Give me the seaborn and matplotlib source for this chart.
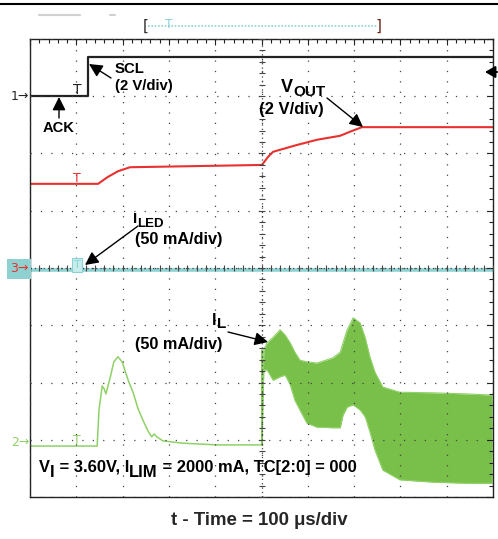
import numpy as np
import matplotlib
matplotlib.use("Agg")
import matplotlib.pyplot as plt
import seaborn as sns
from matplotlib.lines import Line2D

# time in us (100 us/div), amplitude in screen divisions (0 = bottom graticule line)
scl_t = [0, 125, 125, 1000]
scl_y = [7.0, 7.0, 7.69, 7.69]

vout_t = [0, 147, 168, 190, 216, 501, 514, 525, 577, 620, 670, 691, 717, 1000]
vout_y = [5.47, 5.47, 5.59, 5.69, 5.76, 5.80, 5.94, 6.03, 6.15, 6.24, 6.31, 6.38, 6.46, 6.46]

iled_t = [0, 1000]
iled_y = [3.97, 3.97]

il_t = [0, 145, 149, 156, 160, 164, 173, 181, 190, 199, 212, 223, 233, 244, 255, 263,
        268, 274, 287, 330, 404, 501]
il_y = [0.89, 0.89, 1.52, 1.94, 1.89, 1.80, 2.08, 2.36, 2.45, 2.36, 2.04, 1.82, 1.55,
        1.34, 1.15, 1.05, 1.10, 1.05, 0.98, 0.94, 0.91, 0.91]

# switching ripple envelope of IL after the second step
band_t = [501, 505, 512, 525, 540, 551, 562, 572, 583, 598, 620, 654, 670, 676, 685,
          698, 713, 724, 734, 745, 762, 799, 870, 944, 998]
band_hi = [0.91, 2.57, 2.69, 2.79, 2.92, 2.83, 2.69, 2.53, 2.39, 2.36, 2.34, 2.43, 2.53,
           2.69, 2.92, 3.13, 3.04, 2.78, 2.45, 2.18, 1.92, 1.83, 1.82, 1.80, 1.78]
band_lo = [0.91, 2.22, 2.22, 2.04, 2.10, 2.13, 1.96, 1.69, 1.52, 1.29, 1.22, 1.21, 1.21,
           1.43, 1.57, 1.61, 1.52, 1.40, 1.14, 0.82, 0.47, 0.30, 0.26, 0.24, 0.24]

BLACK = "#222222"
RED = "#e8312f"
CYAN = "#8ed3d3"
GREEN = "#78c04a"
LGREEN = "#8fd166"

sns.set_style("white")
plt.rcParams["font.family"] = ["Liberation Sans", "DejaVu Sans"]

W, H = 498, 539
fig = plt.figure(figsize=(W / 100, H / 100), dpi=100)
ax = fig.add_axes([30 / W, 42 / H, 463 / W, 458 / H])
ax.set_xlim(0, 1000)
ax.set_ylim(0, 8)


def X(px):
    return (px - 30) / 463 * 1000


def Y(py):
    return (497 - py) / 458 * 8


def FX(px):
    return px / W


def FY(py):
    return 1 - py / H


def label(x_px, base_px, parts):
    # parts: (text, drop in px below the baseline, font size); each part follows the previous one
    prev = None
    for txt, dy, size in parts:
        kw = dict(ha="left", va="baseline", fontsize=size, fontweight="bold", color="black")
        if prev is None:
            prev = ax.text(X(x_px), Y(base_px + dy), txt, **kw)
        else:
            prev = ax.annotate(txt, xy=(1, Y(base_px + dy)), xycoords=(prev, "data"), **kw)
    return prev


# traces
sns.lineplot(x=scl_t, y=scl_y, ax=ax, color=BLACK, lw=1.6, estimator=None, sort=False)
sns.lineplot(x=vout_t, y=vout_y, ax=ax, color=RED, lw=1.5, estimator=None, sort=False)
sns.lineplot(x=iled_t, y=iled_y, ax=ax, color=CYAN, lw=2.6, estimator=None, sort=False)
sns.lineplot(x=il_t, y=il_y, ax=ax, color=LGREEN, lw=1.1, estimator=None, sort=False)
ax.fill_between(band_t, band_lo, band_hi, color=GREEN, lw=0, zorder=2)
sns.lineplot(x=band_t, y=band_hi, ax=ax, color=LGREEN, lw=0.8, estimator=None, sort=False)
sns.lineplot(x=band_t, y=band_lo, ax=ax, color=LGREEN, lw=0.8, estimator=None, sort=False)
ax.plot([501, 501], [0.91, 2.57], color=GREEN, lw=1.2)

# graticule
ax.set_xticks(np.arange(0, 1001, 100))
ax.set_yticks(np.arange(0, 9, 1))
ax.set_xticks(np.arange(0, 1001, 20), minor=True)
ax.set_yticks(np.arange(0, 8.01, 0.2), minor=True)
ax.tick_params(which="both", direction="in", top=True, right=True,
               labelbottom=False, labelleft=False, color=BLACK, width=0.8)
ax.tick_params(which="major", length=4)
ax.tick_params(which="minor", length=3)
ax.set_axisbelow(False)
ax.grid(True, which="major", color="#444444", linestyle=(0, (1, 7.3)), lw=0.9)
for s in ax.spines.values():
    s.set_color(BLACK)
    s.set_linewidth(1.0)
ax.axvline(500, color="#444444", lw=0.9, linestyle=(0, (1, 2.5)), zorder=3)
ax.axhline(4, color="#444444", lw=0.9, linestyle=(0, (1, 2.5)), zorder=3)
ax.plot(np.arange(0, 1001, 20), np.full(51, 4.0), ls="none", marker="|", ms=4,
        mew=0.8, color="#444444", zorder=3)
ax.plot(np.full(41, 500.0), np.arange(0, 8.01, 0.2), ls="none", marker="_", ms=4,
        mew=0.8, color="#444444", zorder=3)
ax.set_xlabel("")
ax.set_ylabel("")

# trigger markers on the traces
ax.text(X(77), Y(97), "T", ha="center", va="bottom", fontsize=10, color=BLACK,
        family="DejaVu Sans")
ax.text(X(77), Y(185), "T", ha="center", va="bottom", fontsize=9, color=RED,
        family="DejaVu Sans")
ax.text(X(77), Y(447), "T", ha="center", va="bottom", fontsize=9, color=LGREEN,
        family="DejaVu Sans")
ax.text(X(77), Y(270), "T", ha="center", va="bottom", fontsize=8, color=CYAN,
        family="DejaVu Sans",
        bbox=dict(boxstyle="square,pad=0.15", facecolor="#c8eded", edgecolor=CYAN, lw=0.8))

# annotations
bold = dict(fontweight="bold", color="black")
arrow = dict(arrowstyle="-|>,head_length=0.8,head_width=0.4", color="black", lw=1.0,
             shrinkA=0, shrinkB=0)

ax.text(X(115), Y(69), "SCL", ha="left", va="center", fontsize=10.7, **bold)
ax.text(X(115), Y(86), "(2 V/div)", ha="left", va="center", fontsize=10.7, **bold)
ax.annotate("", xy=(X(89), Y(64)), xytext=(X(111), Y(78)), arrowprops=arrow)

ax.text(X(59), Y(128), "ACK", ha="center", va="center", fontsize=10.6, **bold)
ax.annotate("", xy=(X(59), Y(97)), xytext=(X(59), Y(118)), arrowprops=arrow)

label(281, 92, [("V", 0, 13), ("OUT", 4, 11)])
ax.text(X(259), Y(110), "(2 V/div)", ha="left", va="center", fontsize=12, **bold)
ax.annotate("", xy=(X(363), Y(127)), xytext=(X(327), Y(98)), arrowprops=arrow)

label(133, 223, [("I", 0, 11), ("LED", 4, 9.5)])
ax.text(X(135), Y(240), "(50 mA/div)", ha="left", va="center", fontsize=11.7, **bold)
ax.annotate("", xy=(X(85), Y(265)), xytext=(X(138), Y(226)), arrowprops=arrow)

label(212, 325, [("I", 0, 11.5), ("L", 3, 11)])
ax.text(X(135), Y(344), "(50 mA/div)", ha="left", va="center", fontsize=11.7, **bold)
ax.annotate("", xy=(X(268), Y(342)), xytext=(X(228), Y(332)), arrowprops=arrow)

label(39, 472, [("V", 0, 11.9), ("I", 5, 11.9), (" = 3.60V, I", 0, 11.9),
                ("LIM", 5, 11.9), (" = 2000 mA, TC[2:0] = 000", 0, 11.9)])

fig.text(FX(259), FY(525), "t - Time = 100 \u03bcs/div", ha="center", va="baseline",
         fontsize=13.4, fontweight="bold")

# channel reference markers
fig.text(FX(29), FY(97), "1\u2192", ha="right", va="center", fontsize=9, color=BLACK,
         family="DejaVu Sans")
fig.text(FX(28), FY(269), "3\u2192", ha="right", va="center", fontsize=9, color=RED,
         family="DejaVu Sans",
         bbox=dict(boxstyle="square,pad=0.25", facecolor="#8fd0d0", edgecolor="none"))
fig.text(FX(29), FY(442), "2\u2192", ha="right", va="center", fontsize=9, color=LGREEN,
         family="DejaVu Sans")
ax.annotate("", xy=(X(485), Y(72)), xytext=(X(497), Y(72)), annotation_clip=False,
            arrowprops=dict(arrowstyle="-|>,head_length=0.6,head_width=0.35",
                            color="black", lw=1.5, shrinkA=0, shrinkB=0))

# top bar: record window and frame line
fig.add_artist(Line2D([0, 1], [FY(4), FY(4)], color="black", lw=1.5))
fig.add_artist(Line2D([FX(39), FX(80)], [FY(15), FY(15)], color="#d0d0d0", lw=1.5))
fig.add_artist(Line2D([FX(110), FX(115)], [FY(15), FY(15)], color="#d0d0d0", lw=1.5))
fig.add_artist(Line2D([FX(148), FX(377)], [FY(26), FY(26)], color=CYAN, lw=1.2,
                      linestyle=(0, (1, 1))))
fig.text(FX(146), FY(26), "[", ha="center", va="center", fontsize=11, color="#333333",
         family="DejaVu Sans")
fig.text(FX(379), FY(26), "]", ha="center", va="center", fontsize=11, color="#6a2a1a",
         family="DejaVu Sans")
fig.text(FX(169), FY(25), "T", ha="center", va="center", fontsize=9, color=CYAN,
         family="DejaVu Sans")

fig.savefig("out.png", dpi=100)
